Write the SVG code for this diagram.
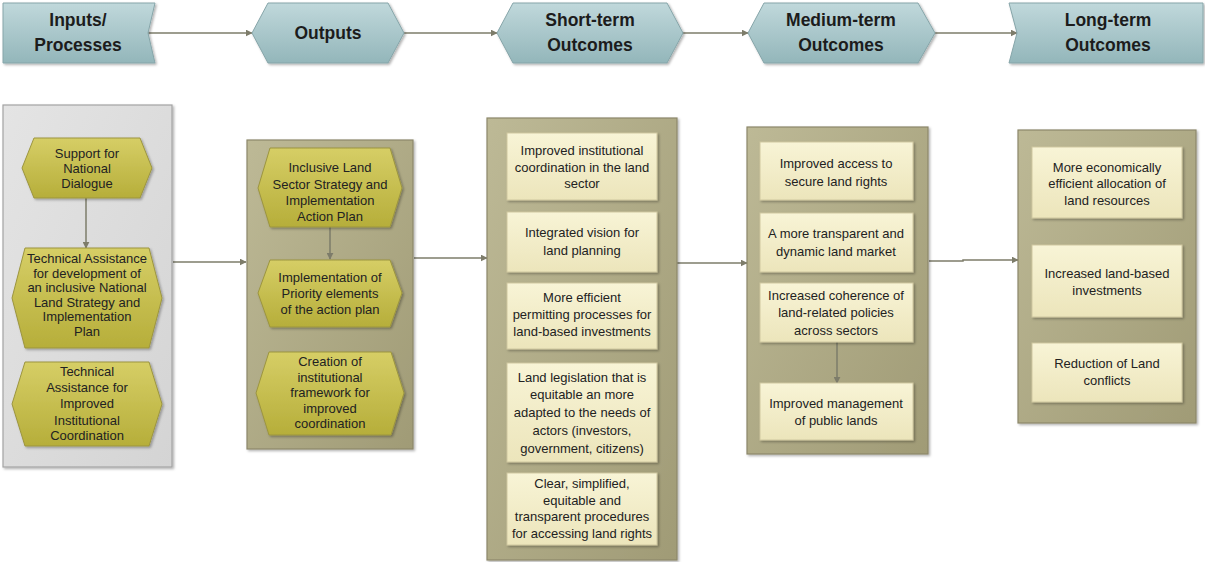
<svg xmlns="http://www.w3.org/2000/svg" width="1205" height="562" viewBox="0 0 1205 562">
<defs>
<linearGradient id="gHead" x1="0" y1="0" x2="0" y2="1"><stop offset="0" stop-color="#c0d8db"/><stop offset="1" stop-color="#93b6ba"/></linearGradient>
<linearGradient id="gPanel" x1="0" y1="0" x2="1" y2="1"><stop offset="0" stop-color="#bdb996"/><stop offset="1" stop-color="#a09b76"/></linearGradient>
<linearGradient id="gGrey" x1="0" y1="0" x2="1" y2="1"><stop offset="0" stop-color="#e4e4e4"/><stop offset="1" stop-color="#d4d4d4"/></linearGradient>
<linearGradient id="gHex" x1="0" y1="0" x2="0" y2="1"><stop offset="0" stop-color="#d6ce66"/><stop offset="1" stop-color="#b6ae3a"/></linearGradient>
<linearGradient id="gRect" x1="0" y1="0" x2="0" y2="1"><stop offset="0" stop-color="#f8f4d6"/><stop offset="1" stop-color="#ece5bb"/></linearGradient>
<filter id="sh" x="-10%" y="-10%" width="125%" height="125%"><feDropShadow dx="1.5" dy="1.5" stdDeviation="1.2" flood-color="#000" flood-opacity="0.3"/></filter>
<marker id="arr" viewBox="0 0 10 10" refX="9" refY="5" markerWidth="7" markerHeight="7" markerUnits="userSpaceOnUse" orient="auto"><path d="M0,0 L10,5 L0,10 z" fill="#7d7c6a"/></marker>
</defs>
<style>
.head{fill:url(#gHead);stroke:#86a5a9;stroke-width:1;filter:url(#sh)}
.panel{fill:url(#gPanel);stroke:#8c876a;stroke-width:1.2;filter:url(#sh)}
.gpanel{fill:url(#gGrey);stroke:#a3a3a3;stroke-width:1.2;filter:url(#sh)}
.hex{fill:url(#gHex);stroke:#9c953f;stroke-width:1;filter:url(#sh)}
.box{fill:url(#gRect);stroke:#cfc79f;stroke-width:1;filter:url(#sh)}
.ht{font-family:"Liberation Sans",Arial,sans-serif;font-weight:bold;font-size:17.5px;fill:#1c1c1c;text-anchor:middle}
.t{font-family:"Liberation Sans",Arial,sans-serif;font-size:13px;fill:#222;text-anchor:middle}
.con{fill:none;stroke:#7d7c6a;stroke-width:1.5;marker-end:url(#arr)}
</style>

<g id="connectors">
<line class="con" x1="148" y1="33" x2="252" y2="33"/>
<line class="con" x1="404" y1="33" x2="497" y2="33"/>
<line class="con" x1="682" y1="33" x2="748" y2="33"/>
<line class="con" x1="935" y1="33" x2="1017" y2="33"/>
<line class="con" x1="173" y1="262" x2="246" y2="262"/>
<line class="con" x1="414" y1="258" x2="487" y2="258"/>
<line class="con" x1="677" y1="263" x2="747" y2="263"/>
<polyline class="con" points="929,261 963,261 963,260 1018,260"/>
</g>

<g id="h-inputs"><polygon class="head" points="3,3 155,3 148,33 155,63 3,63"/><text class="ht" x="78" y="26">Inputs/</text><text class="ht" x="78" y="51">Processes</text></g>
<g id="h-outputs"><polygon class="head" points="252,33 268,3 388,3 404,33 388,63 268,63"/><text class="ht" x="328" y="39">Outputs</text></g>
<g id="h-short"><polygon class="head" points="497,33 513,3 667,3 683,33 667,63 513,63"/><text class="ht" x="590" y="26">Short-term</text><text class="ht" x="590" y="51">Outcomes</text></g>
<g id="h-medium"><polygon class="head" points="748,33 764,3 918,3 935,33 918,63 764,63"/><text class="ht" x="841" y="26">Medium-term</text><text class="ht" x="841" y="51">Outcomes</text></g>
<g id="h-long"><polygon class="head" points="1009,3 1203,3 1203,63 1009,63 1017,33"/><text class="ht" x="1108" y="26">Long-term</text><text class="ht" x="1108" y="51">Outcomes</text></g>

<g id="panel-inputs">
<rect class="gpanel" x="3" y="105" width="169" height="362"/>
</g>
<g id="panel-outputs">
<rect class="panel" x="247" y="140" width="166" height="309"/>
</g>
<g id="panel-short">
<rect class="panel" x="487" y="118" width="190" height="442"/>
</g>
<g id="panel-medium">
<rect class="panel" x="747" y="127" width="181" height="327"/>
</g>
<g id="panel-long">
<rect class="panel" x="1018" y="130" width="178" height="293"/>
</g>

<g id="inner-connectors">
<line class="con" x1="86" y1="198" x2="86" y2="248"/>
<line class="con" x1="330" y1="227" x2="330" y2="259"/>
<line class="con" x1="837" y1="342" x2="837" y2="383"/>
</g>

<g id="n-support"><polygon class="hex" points="22,168 34,138 140,138 152,168 140,198 34,198"/><text class="t" x="87" y="158">Support for</text><text class="t" x="87" y="173">National</text><text class="t" x="87" y="188">Dialogue</text></g>
<g id="n-ta-strategy"><polygon class="hex" points="12,298 25,248 149,248 162,298 149,348 25,348"/><text class="t" x="87" y="263">Technical Assistance</text><text class="t" x="87" y="277.5">for development of</text><text class="t" x="87" y="292">an inclusive National</text><text class="t" x="87" y="306.5">Land Strategy and</text><text class="t" x="87" y="321">Implementation</text><text class="t" x="87" y="335.5">Plan</text></g>
<g id="n-ta-coord"><polygon class="hex" points="12,404 25,362 149,362 162,404 149,446 25,446"/><text class="t" x="87" y="376">Technical</text><text class="t" x="87" y="391.5">Assistance for</text><text class="t" x="87" y="408">Improved</text><text class="t" x="87" y="424.5">Institutional</text><text class="t" x="87" y="440">Coordination</text></g>

<g id="n-inclusive"><polygon class="hex" points="258,188 270,148 390,148 402,188 390,227 270,227"/><text class="t" x="330" y="172">Inclusive Land</text><text class="t" x="330" y="189">Sector Strategy and</text><text class="t" x="330" y="205">Implementation</text><text class="t" x="330" y="221">Action Plan</text></g>
<g id="n-priority"><polygon class="hex" points="258,293 270,260 390,260 402,293 390,327 270,327"/><text class="t" x="330" y="282">Implementation of</text><text class="t" x="330" y="298">Priority elements</text><text class="t" x="330" y="314">of the action plan</text></g>
<g id="n-framework"><polygon class="hex" points="256,393 269,352 391,352 404,393 391,435 269,435"/><text class="t" x="330" y="366">Creation of</text><text class="t" x="330" y="381.5">institutional</text><text class="t" x="330" y="397">framework for</text><text class="t" x="330" y="412.5">improved</text><text class="t" x="330" y="428">coordination</text></g>

<g id="n-s1"><rect class="box" x="507" y="133" width="150" height="67"/><text class="t" x="582" y="154.5">Improved institutional</text><text class="t" x="582" y="171.5">coordination in the land</text><text class="t" x="582" y="188">sector</text></g>
<g id="n-s2"><rect class="box" x="507" y="212" width="150" height="60"/><text class="t" x="582" y="237">Integrated vision for</text><text class="t" x="582" y="255">land planning</text></g>
<g id="n-s3"><rect class="box" x="507" y="283" width="150" height="66"/><text class="t" x="582" y="302">More efficient</text><text class="t" x="582" y="319">permitting processes for</text><text class="t" x="582" y="336">land-based investments</text></g>
<g id="n-s4"><rect class="box" x="507" y="363" width="150" height="99"/><text class="t" x="582" y="381.5">Land legislation that is</text><text class="t" x="582" y="399">equitable an more</text><text class="t" x="582" y="417">adapted to the needs of</text><text class="t" x="582" y="434.5">actors (investors,</text><text class="t" x="582" y="452.5">government, citizens)</text></g>
<g id="n-s5"><rect class="box" x="507" y="473" width="150" height="72"/><text class="t" x="582" y="487.5">Clear, simplified,</text><text class="t" x="582" y="504.5">equitable and</text><text class="t" x="582" y="521">transparent procedures</text><text class="t" x="582" y="537.5">for accessing land rights</text></g>

<g id="n-m1"><rect class="box" x="760" y="142" width="153" height="58"/><text class="t" x="836" y="167.5">Improved access to</text><text class="t" x="836" y="186">secure land rights</text></g>
<g id="n-m2"><rect class="box" x="760" y="213" width="153" height="59"/><text class="t" x="836" y="238">A more transparent and</text><text class="t" x="836" y="256">dynamic land market</text></g>
<g id="n-m3"><rect class="box" x="760" y="283" width="153" height="59"/><text class="t" x="836" y="299.5">Increased coherence of</text><text class="t" x="836" y="317">land-related policies</text><text class="t" x="836" y="334.5">across sectors</text></g>
<g id="n-m4"><rect class="box" x="760" y="383" width="153" height="57"/><text class="t" x="836" y="407.5">Improved management</text><text class="t" x="836" y="425">of public lands</text></g>

<g id="n-l1"><rect class="box" x="1032" y="147" width="150" height="71"/><text class="t" x="1107" y="171.5">More economically</text><text class="t" x="1107" y="188">efficient allocation of</text><text class="t" x="1107" y="205">land resources</text></g>
<g id="n-l2"><rect class="box" x="1032" y="245" width="150" height="72"/><text class="t" x="1107" y="277.5">Increased land-based</text><text class="t" x="1107" y="294.5">investments</text></g>
<g id="n-l3"><rect class="box" x="1032" y="343" width="150" height="59"/><text class="t" x="1107" y="367.5">Reduction of Land</text><text class="t" x="1107" y="384.5">conflicts</text></g>
</svg>
